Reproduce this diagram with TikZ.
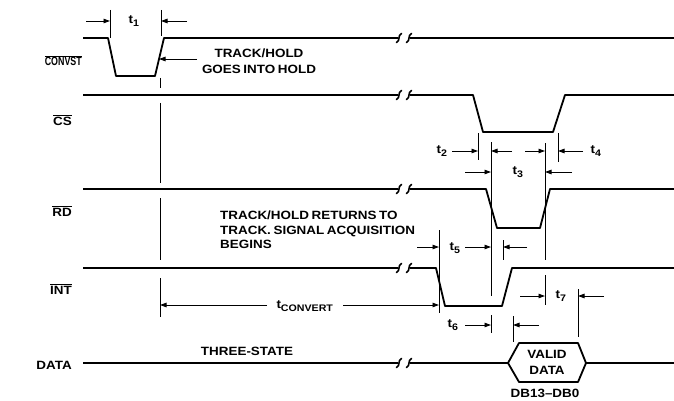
\documentclass[tikz,border=0pt]{standalone}
\usepackage{fontspec}
\usepackage{graphicx}
\setmainfont{Liberation Sans}[FakeStretch=1.12,WordSpace=0.7]
\usetikzlibrary{arrows.meta}
\tikzset{
  sig/.style={line width=1.8pt, line join=round},
  tickline/.style={line width=0.9pt},
  arr/.style={line width=0.9pt, -{Triangle[length=6.5pt,width=4.5pt]}},
  txt/.style={font=\bfseries\fontsize{12}{16}\selectfont, inner sep=0pt, align=center},
  sublab/.style={font=\bfseries\fontsize{12}{13}\selectfont, inner sep=0pt},
  brkmark/.pic={\draw[line width=1.6pt, line cap=round] (-2.5,4.5) .. controls (1.5,3) and (-1.5,-3) .. (2.5,-4.5);}
}
\newcommand{\tsub}[1]{t\textsubscript{\fontsize{9.5}{9.5}\selectfont #1}}
\newcommand{\ovl}[1]{{\setbox0\hbox{#1}\rlap{\rule[\dimexpr\ht0+1.3pt\relax]{\wd0}{0.7pt}}\box0}}
\begin{document}
\begin{tikzpicture}[x=1pt,y=-1pt]
\useasboundingbox (0,0) rectangle (674,401);

% ---------- signal labels ----------
\node[txt, anchor=base east] (lconv) at (82,66) {\scalebox{0.66}[1]{\ovl{CONVST}}};
\node[txt, anchor=base east] (lcs) at (72,125) {\ovl{CS}};
\node[txt, anchor=base east] (lrd) at (72,216) {\ovl{RD}};
\node[txt, anchor=base east] (lint) at (72,294) {\ovl{INT}};
\node[txt, anchor=base east] (ldata) at (72,369) {DATA};

% ---------- signals ----------
% CONVST
\draw[sig] (83,38) -- (108,38) -- (116,76) -- (155,76) -- (164,38) -- (398,38);
\draw[sig] (410,38) -- (674,38);
\pic at (399,38) {brkmark}; \pic at (409,38) {brkmark};
% CS
\draw[sig] (83,95) -- (398,95);
\draw[sig] (410,95) -- (473,95) -- (483,132) -- (553,132) -- (565,95) -- (674,95);
\pic at (399,95) {brkmark}; \pic at (409,95) {brkmark};
% RD
\draw[sig] (83,189) -- (398,189);
\draw[sig] (410,189) -- (486,189) -- (497,228) -- (540,228) -- (550,189) -- (674,189);
\pic at (399,189) {brkmark}; \pic at (409,189) {brkmark};
% INT
\draw[sig] (83,268) -- (398,268);
\draw[sig] (410,268) -- (436,268) -- (445,306) -- (502,306) -- (512,268) -- (674,268);
\pic at (399,268) {brkmark}; \pic at (409,268) {brkmark};
% DATA
\draw[sig] (83,363) -- (398,363);
\draw[sig] (410,363) -- (508,363) -- (519,343) -- (578,343) -- (586,363) -- (578,382) -- (519,382) -- (508,363);
\draw[sig] (586,363) -- (674,363);
\pic at (399,363) {brkmark}; \pic at (409,363) {brkmark};

% ---------- t1 ----------
\draw[tickline] (110,10) -- (110,38);
\draw[tickline] (161,10) -- (161,36);
\draw[arr] (86,21) -- (110,21);
\draw[arr] (187,21) -- (161,21);
\node[sublab] (t1) at (134,21) {\tsub{1}};

% track/hold goes into hold
\draw[arr] (197,59) -- (159,59);
\node[txt] (hold) at (259,61) {TRACK/HOLD\\GOES INTO HOLD};

% long vertical at x=160
\draw[tickline] (160,78) -- (160,88);
\draw[tickline] (160,103) -- (160,183);
\draw[tickline] (160,198) -- (160,260);
\draw[tickline] (160,278) -- (160,317);

% ---------- t2, t3, t4 ----------
\draw[tickline] (478,133) -- (478,160);
\draw[tickline] (491,142) -- (491,296);
\draw[tickline] (491,315) -- (491,333);
\draw[tickline] (545,143) -- (545,260);
\draw[tickline] (545,275) -- (545,305);
\draw[tickline] (558,133) -- (558,162);
\draw[arr] (452,151) -- (478,151);
\node[sublab] (t2) at (442,151) {\tsub{2}};
\draw[arr] (512,151) -- (491,151);
\draw[arr] (525,151) -- (545,151);
\draw[arr] (583,151) -- (558,151);
\node[sublab] (t4) at (596,151) {\tsub{4}};
\draw[arr] (465,172) -- (491,172);
\draw[arr] (572,172) -- (545,172);
\node[sublab] (t3) at (518,172) {\tsub{3}};

% ---------- t5 ----------
\draw[tickline] (439,230) -- (439,313);
\draw[tickline] (503,240) -- (503,260);
\draw[arr] (417,247) -- (439,247);
\node[sublab] (t5) at (455,248) {\tsub{5}};
\draw[arr] (465,247) -- (491,247);
\draw[arr] (527,247) -- (503,247);

% tracking text
\node[txt, anchor=north west, align=left, font=\bfseries\fontsize{12}{14.5}\selectfont] (ret) at (220,211)
  {TRACK/HOLD RETURNS TO\\TRACK. SIGNAL ACQUISITION\\BEGINS};

% ---------- tCONVERT ----------
\draw[arr] (267,305) -- (160,305);
\draw[arr] (343,305) -- (439,305);
\node[sublab] (tconv) at (305,306) {\tsub{CONVERT}};

% ---------- t6 ----------
\draw[tickline] (513,316) -- (513,342);
\draw[arr] (465,325) -- (491,325);
\node[sublab] (t6) at (453,325) {\tsub{6}};
\draw[arr] (539,325) -- (513,325);

% ---------- t7 ----------
\draw[tickline] (578,289) -- (578,337);
\draw[arr] (520,296) -- (545,296);
\node[sublab] (t7) at (561,296) {\tsub{7}};
\draw[arr] (604,296) -- (578,296);

% ---------- data texts ----------
\node[txt] (three) at (247,351) {THREE-STATE};
\node[txt] (valid) at (547,362) {VALID\\DATA};
\node[txt] (db) at (545,393) {DB13–DB0};
\end{tikzpicture}
\end{document}
